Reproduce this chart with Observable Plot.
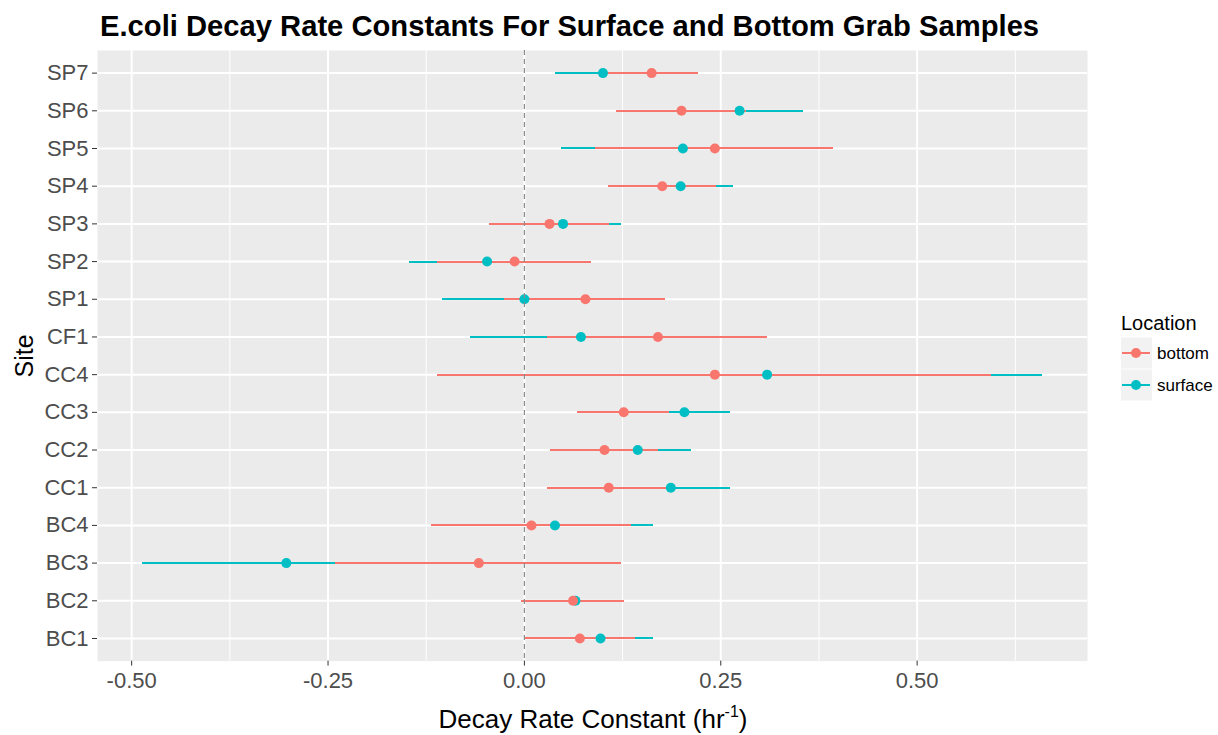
<!DOCTYPE html>
<html>
<head>
<meta charset="utf-8">
<script src="https://cdn.jsdelivr.net/npm/d3@7"></script>
<script src="https://cdn.jsdelivr.net/npm/@observablehq/plot@0.6"></script>
<style>
  html, body { margin: 0; padding: 0; background: white; }
  #wrap { position: relative; width: 1218px; height: 735px; font-family: "Liberation Sans", Arial, sans-serif; }
  #wrap > svg { position: absolute; left: 0; top: 0; }
</style>
</head>
<body>
<div id="wrap"></div>
<script>
// ---- data ----
const sites = ["SP7","SP6","SP5","SP4","SP3","SP2","SP1","CF1","CC4","CC3","CC2","CC1","BC4","BC3","BC2","BC1"];
const locations = ["bottom","surface"];
const bottomEst = [0.162, 0.200, 0.2425, 0.1755, 0.032, -0.0125, 0.0777, 0.170, 0.2425, 0.1265, 0.102, 0.1074, 0.009, -0.058, 0.062, 0.0706];
const bottomLo  = [0.102, 0.1175, 0.090, 0.107, -0.044, -0.110, -0.025, 0.030, -0.110, 0.068, 0.033, 0.030, -0.118, -0.240, -0.004, 0.000];
const bottomHi  = [0.222, 0.283, 0.394, 0.244, 0.108, 0.085, 0.180, 0.310, 0.595, 0.185, 0.171, 0.185, 0.136, 0.124, 0.128, 0.141];
const surfaceEst = [0.100, 0.274, 0.2018, 0.1989, 0.0492, -0.0475, 0.000, 0.072, 0.309, 0.2037, 0.1443, 0.1864, 0.0389, -0.3031, 0.065, 0.0969];
const surfaceLo  = [0.039, 0.1927, 0.047, 0.1314, -0.0253, -0.1458, -0.104, -0.0687, -0.0416, 0.1448, 0.0753, 0.110, -0.0866, -0.4862, 0.0025, 0.0294];
const surfaceHi  = [0.161, 0.3555, 0.3566, 0.2664, 0.1237, 0.0508, 0.104, 0.2127, 0.6596, 0.2626, 0.2133, 0.2626, 0.1644, -0.120, 0.1276, 0.1644];
const xTicks = [-0.5, -0.25, 0, 0.25, 0.5];
const xMinor = [-0.375, -0.125, 0.125, 0.375, 0.625];
const colors = ["#F8766D", "#00BFC4"];

const bottomRows = sites.map((s, i) => ({site: s, location: "bottom", est: bottomEst[i], lo: bottomLo[i], hi: bottomHi[i]}));
const surfaceRows = sites.map((s, i) => ({site: s, location: "surface", est: surfaceEst[i], lo: surfaceLo[i], hi: surfaceHi[i]}));

const chart = Plot.plot({
  width: 1218,
  height: 735,
  marginTop: 50,
  marginBottom: 74.4,
  marginLeft: 97,
  marginRight: 131,
  style: {fontFamily: '"Liberation Sans", Arial, sans-serif', background: "transparent"},
  x: {domain: [-0.5435, 0.7169]},
  y: {type: "point", domain: sites, padding: 0.6, round: false},
  color: {domain: locations, range: colors},
  marks: [
    Plot.frame({fill: "#EBEBEB", stroke: null}),
    Plot.ruleX(xMinor, {stroke: "white", strokeWidth: 1}),
    Plot.ruleX(xTicks, {stroke: "white", strokeWidth: 2}),
    Plot.ruleY(sites, {stroke: "white", strokeWidth: 2}),
    Plot.ruleY(surfaceRows, {y: "site", x1: "lo", x2: "hi", stroke: "location", strokeWidth: 2, shapeRendering: "crispEdges"}),
    Plot.ruleY(bottomRows, {y: "site", x1: "lo", x2: "hi", stroke: "location", strokeWidth: 2, shapeRendering: "crispEdges"}),
    Plot.dot(surfaceRows, {x: "est", y: "site", fill: "location", r: 5}),
    Plot.dot(bottomRows, {x: "est", y: "site", fill: "location", r: 5}),
    Plot.ruleX([0], {stroke: "#8c8c8c", strokeWidth: 1.2, strokeDasharray: "5,4"}),
    Plot.axisX({ticks: xTicks, tickFormat: d => d.toFixed(2), tickSize: 5, tickPadding: 6, fontSize: 22, fill: "#4D4D4D", stroke: "#333333", label: null}),
    Plot.axisY({tickSize: 5, tickPadding: 4, fontSize: 22, fill: "#4D4D4D", stroke: "#333333", label: null})
  ]
});
document.getElementById("wrap").appendChild(chart);

// ---- overlay: titles and legend ----
const ov = d3.select("#wrap").append("svg")
  .attr("width", 1218).attr("height", 735)
  .style("font-family", '"Liberation Sans", Arial, sans-serif');

ov.append("text").attr("x", 100).attr("y", 36)
  .attr("font-size", 29.2).attr("font-weight", "bold").attr("fill", "black")
  .text("E.coli Decay Rate Constants For Surface and Bottom Grab Samples");

const xt = ov.append("text").attr("x", 593).attr("y", 728)
  .attr("text-anchor", "middle").attr("font-size", 26).attr("fill", "black");
xt.append("tspan").text("Decay Rate Constant (hr");
xt.append("tspan").attr("dy", -11).attr("font-size", 16).text("-1");
xt.append("tspan").attr("dy", 11).text(")");

ov.append("text").attr("transform", "translate(33,356) rotate(-90)")
  .attr("text-anchor", "middle").attr("font-size", 25).attr("fill", "black").text("Site");

ov.append("text").attr("x", 1121).attr("y", 330).attr("font-size", 20).attr("fill", "black").text("Location");
locations.forEach((loc, i) => {
  const y0 = 337.5 + i * 32;
  ov.append("rect").attr("x", 1121).attr("y", y0).attr("width", 31).attr("height", 31).attr("fill", "#F2F2F2");
  ov.append("line").attr("x1", 1122).attr("x2", 1150).attr("y1", y0 + 15.5).attr("y2", y0 + 15.5)
    .attr("stroke", colors[i]).attr("stroke-width", 2);
  ov.append("circle").attr("cx", 1136).attr("cy", y0 + 15.5).attr("r", 5).attr("fill", colors[i]);
  ov.append("text").attr("x", 1157).attr("y", y0 + 21.5).attr("font-size", 17).attr("fill", "black").text(loc);
});
</script>
</body>
</html>
